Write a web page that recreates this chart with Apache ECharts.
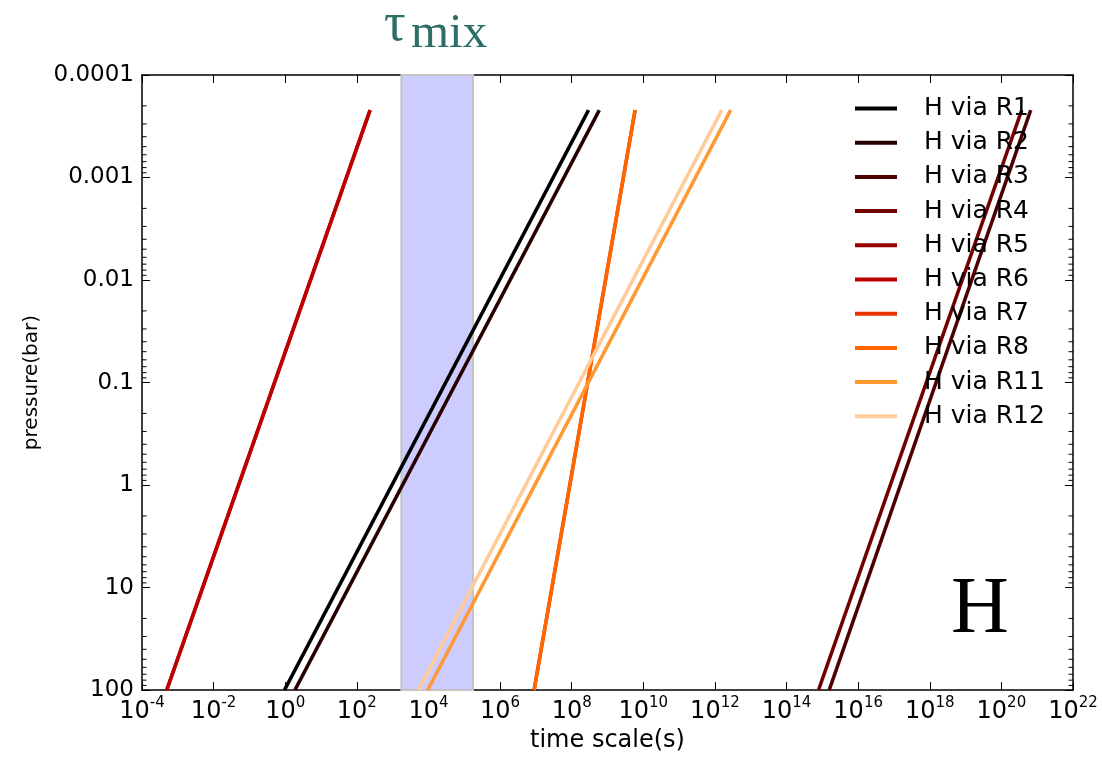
<!DOCTYPE html>
<html>
<head>
<meta charset="utf-8">
<script src="https://cdn.jsdelivr.net/npm/echarts@6/dist/echarts.min.js"></script>
<style>html,body{margin:0;padding:0;background:#fff}#c{width:1102px;height:758px}</style>
</head>
<body>
<div id="c"></div>
<script>
// ---- DATA ----
const seriesNames = ['H via R1','H via R2','H via R3','H via R4','H via R5','H via R6','H via R7','H via R8','H via R11','H via R12'];
const seriesColors = ['#000000','#260000','#4d0000','#730000','#990000','#bf0000','#e63300','#ff6600','#ff9933','#ffcc99'];
// pressure (bar) at the two ends of every line
const pressureEnds = [100, 2.2e-4];
// time scale (s) at those pressures
const R1 = [0.95, 2.95e8];
const R2 = [1.86, 5.9e8];
const R3 = [1.55e15, 6.6e20];
const R4 = [7.8e14, 3.7e20];
const R5 = [4.9e-4, 2.34e2];
const R6 = [4.9e-4, 2.34e2];
const R7 = [8.9e6, 5.9e9];
const R8 = [8.9e6, 5.9e9];
const R11 = [9.5e3, 2.75e12];
const R12 = [5.2e3, 1.55e12];
const timeValues = [R1,R2,R3,R4,R5,R6,R7,R8,R11,R12];
// mixing time scale band (s)
const tauMix = [1.75e3, 1.75e5];
const yTickLabels = ['0.0001','0.001','0.01','0.1','1','10','100'];
const minorMultipliers = [2,3,4,5,6,7,8,9];
const minorDecades = [-4,-3,-2,-1,0,1];
// ---------------

const chart = echarts.init(document.getElementById('c'));
const FONT = 'DejaVu Sans';

const lineSeries = seriesNames.map((n, i) => ({
  name: n, type: 'line', symbol: 'none', z: 3,
  data: pressureEnds.map((p, k) => [timeValues[i][k], p]),
  lineStyle: {color: seriesColors[i], width: 3.5},
  itemStyle: {color: seriesColors[i]},
  emphasis: {disabled: true}, animation: false
}));

const minorData = [];
minorDecades.forEach(d => minorMultipliers.forEach(m => minorData.push([1, m * Math.pow(10, d)])));

const axisCommon = {
  type: 'log', logBase: 10,
  axisLine: {show: true, lineStyle: {color: '#000', width: 1.5}},
  axisTick: {show: true, inside: true, length: 8, lineStyle: {color: '#000', width: 1}},
  splitLine: {show: false}, minorTick: {show: false}
};

const option = {
  animation: false,
  backgroundColor: '#fff',
  grid: {left: 142, right: 29, top: 75, bottom: 65},
  xAxis: [
    Object.assign({}, axisCommon, {
      min: 1e-4, max: 1e22, interval: 2, position: 'bottom',
      name: 'time scale(s)', nameLocation: 'middle', nameGap: 38,
      nameTextStyle: {fontFamily: FONT, fontSize: 24, color: '#000'},
      axisLabel: {
        margin: 6,
        formatter: v => {
          const e = Math.round(Math.log10(v));
          return '{b|10}{s|' + e + '}';
        },
        rich: {
          b: {fontFamily: FONT, fontSize: 24, color: '#000', lineHeight: 28, verticalAlign: 'bottom'},
          s: {fontFamily: FONT, fontSize: 15, color: '#000', lineHeight: 15, verticalAlign: 'top'}
        }
      }
    }),
    Object.assign({}, axisCommon, {
      min: 1e-4, max: 1e22, interval: 2, position: 'top',
      axisLabel: {show: false}
    })
  ],
  yAxis: [
    Object.assign({}, axisCommon, {
      min: 1e-4, max: 100, interval: 1, inverse: true, position: 'left',
      name: 'pressure(bar)', nameLocation: 'middle', nameGap: 100, nameRotate: 90,
      nameTextStyle: {fontFamily: FONT, fontSize: 20, color: '#000'},
      axisLabel: {
        margin: 8, fontFamily: FONT, fontSize: 23, color: '#000',
        formatter: v => yTickLabels[Math.round(Math.log10(v)) + 4]
      }
    }),
    Object.assign({}, axisCommon, {
      min: 1e-4, max: 100, interval: 1, inverse: true, position: 'right',
      axisLabel: {show: false}
    })
  ],
  legend: {
    orient: 'vertical', left: 850, top: 91,
    data: seriesNames, icon: 'rect', itemWidth: 42, itemHeight: 4, itemGap: 9.2,
    textStyle: {fontFamily: FONT, fontSize: 25, color: '#000', lineHeight: 24, height: 24, padding: [0,0,0,22]},
    selectedMode: false, inactiveColor: '#000'
  },
  series: [
    {
      type: 'line', data: [], z: 1, silent: true,
      markArea: {
        silent: true,
        itemStyle: {color: '#ccccff', borderColor: '#c4c4c4', borderWidth: 2},
        data: [[{xAxis: tauMix[0]}, {xAxis: tauMix[1]}]]
      }
    },
    {
      type: 'custom', z: 4, silent: true, clip: false,
      data: minorData,
      renderItem: (params, api) => {
        const y = api.coord([1, api.value(1)])[1];
        const cs = params.coordSys;
        return {type: 'group', children: [
          {type: 'line', shape: {x1: cs.x, y1: y, x2: cs.x + 4.5, y2: y}, style: {stroke: '#000', lineWidth: 1}},
          {type: 'line', shape: {x1: cs.x + cs.width - 4.5, y1: y, x2: cs.x + cs.width, y2: y}, style: {stroke: '#000', lineWidth: 1}}
        ]};
      }
    }
  ].concat(lineSeries),
  graphic: [
    {type: 'text', left: 384, top: -1, style: {text: 'τ', font: '54px "Liberation Serif"', fill: '#2d6e68'}},
    {type: 'text', left: 411, top: 10, style: {text: 'mix', font: '49px "Liberation Serif"', fill: '#2d6e68'}},
    {type: 'text', left: 951, top: 571, style: {text: 'H', font: '80px "Liberation Serif"', fill: '#000'}}
  ]
};
chart.setOption(option);
</script>
</body>
</html>
